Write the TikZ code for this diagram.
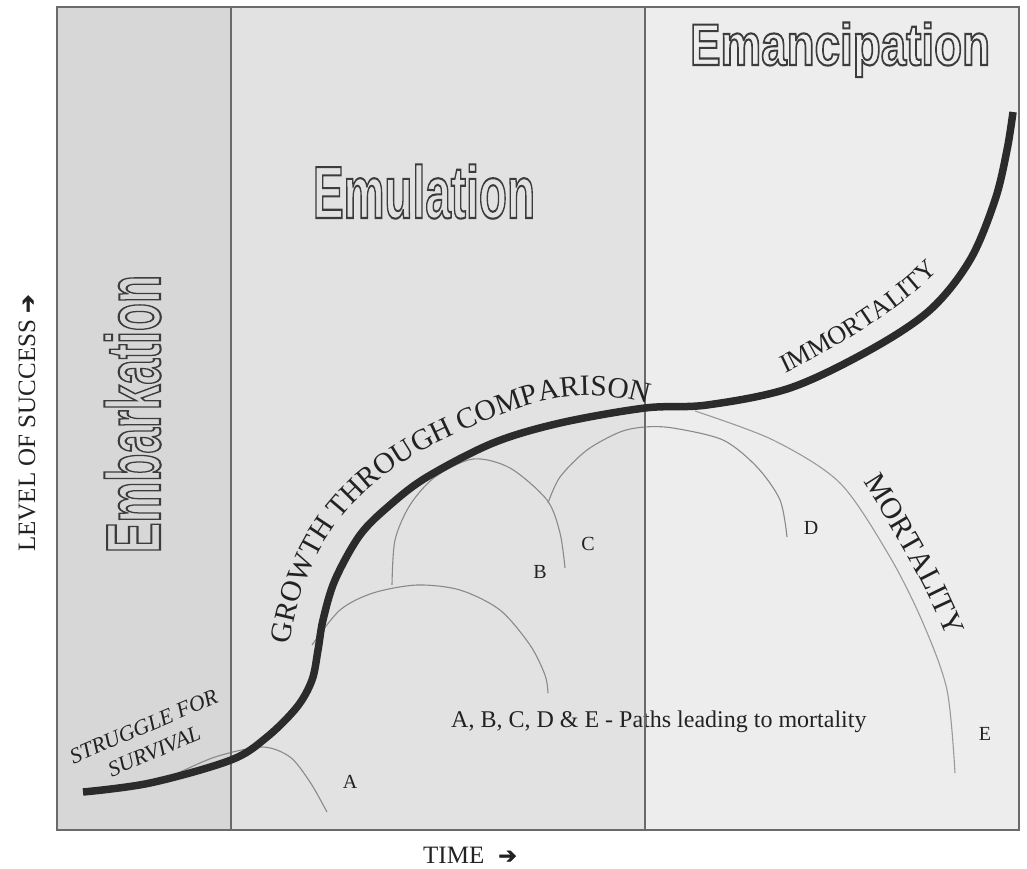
\documentclass[tikz,border=0pt]{standalone}
\usepackage{fontspec}
\usepackage{graphicx}
\setmainfont{Liberation Serif}
\newfontfamily\hdfont{Liberation Sans}
\newfontfamily\arrowfont{DejaVu Sans}[FakeBold=2]
\usetikzlibrary{calc,decorations.text}
\definecolor{bgA}{HTML}{D7D7D7}
\definecolor{bgB}{HTML}{E2E2E2}
\definecolor{bgC}{HTML}{EDEDED}
\definecolor{framec}{HTML}{6A6A6A}
\definecolor{curvec}{HTML}{2B2B2B}
\definecolor{thinc}{HTML}{8A8A8A}
\definecolor{thinlc}{HTML}{9A9A9A}
\definecolor{olc}{HTML}{3C3C3C}
\definecolor{txt}{HTML}{222222}
% outlined (stroked) bold sans word: #1 width, #2 size, #3 word
\newcommand\outlword[3]{\resizebox{#1}{\height}{\special{pdf:literal direct 1 Tr 2.1 w}\hdfont\bfseries\fontsize{#2}{#2}\selectfont #3\special{pdf:literal direct 0 Tr}}}
\begin{document}
\begin{tikzpicture}[x=1pt,y=-1pt,
  outl/.style={inner sep=0pt,outer sep=0pt,text=olc},
  thinarc/.style={draw=thinc,line width=1.1pt},
  frameline/.style={draw=framec,line width=1.6pt},
  thickline/.style={draw=curvec,line width=7.5pt},
  lbl/.style={inner sep=0pt,text=txt,font=\fontsize{20}{24}\selectfont},
  axlbl/.style={inner sep=0pt,text=txt,font=\fontsize{25}{30}\selectfont}]
\useasboundingbox (0,0) rectangle (1027,868);
% backgrounds
\fill[bgA] (57,7) rectangle (231,830);
\fill[bgB] (231,7) rectangle (645,830);
\fill[bgC] (645,7) rectangle (1019,830);
% thin paths
\draw[thinarc] plot[smooth] coordinates {(172,776) (215,757) (262,747) (290,757) (310,782) (327,812)};
\draw[thinarc] plot[smooth] coordinates {(312,645) (340,610) (373,593) (417,585) (460,590) (500,610) (530,645) (545,675) (548,693)};
\draw[thinarc] plot[smooth] coordinates {(392,585) (395,540) (410,505) (435,477) (473,459) (510,468) (547,500) (560,533) (565,568)};
\draw[thinarc] plot[smooth] coordinates {(548,503) (560,477) (587,450) (620,432) (645,427) (673,428) (723,440) (757,467) (780,500) (787,537)};
\draw[thinarc,draw=thinlc] plot[smooth] coordinates {(695,411) (773,440) (840,483) (890,557) (923,623) (947,690) (955,773)};
% caption
\node[inner sep=0pt,anchor=base west,text=txt,font=\fontsize{24}{28}\selectfont] (caption) at (451,727) {A, B, C, D \& E - Paths leading to mortality};
% frame
\draw[frameline] (57,7) rectangle (1019,830);
\draw[frameline] (231,7) -- (231,830);
\draw[frameline] (645,7) -- (645,830);
% main curve
\draw[thickline] plot[smooth,tension=0.55] coordinates {(83,792) (150,783) (231,760) (267,737) (297,707) (312,680) (318,650) (323,620) (335,580) (360,535) (390,505) (427,477) (493,443) (560,423) (645,408) (707,405) (790,388) (870,350) (930,310) (970,260) (995,200) (1007,150) (1013,112)};
% outlined titles
\node[outl,rotate=90,anchor=base west] (emb) at (160,553) {\outlword{278pt}{76.8}{Embarkation}};
\node[outl,anchor=base west] (emu) at (313,218) {\outlword{222pt}{74}{Emulation}};
\node[outl,anchor=base west] (ema) at (690,65) {\outlword{300pt}{58.7}{Emancipation}};
% texts along paths
\coordinate (g0) at (290,645);
\coordinate (g1) at (450,437);
\coordinate (g2) at (648,404);
\path[decorate,decoration={text along path,text color=txt,text align=left,
  text={|\fontsize{29.5}{35}\selectfont|GROWTH THROUGH COMPARISON}}]
  (g0) .. controls (304,543) and (357,480) .. (g1) .. controls (521,404) and (573,383) .. (g2);
\coordinate (i0) at (785,373);
\coordinate (i1) at (956,252);
\path[decorate,decoration={text along path,text color=txt,text align=left,
  text={|\fontsize{26}{30}\selectfont|IMMORTALITY}}]
  (i0) .. controls (845,345) and (915,300) .. (i1);
\coordinate (m0) at (863,482);
\coordinate (m1) at (964,686);
\path[decorate,decoration={text along path,text color=txt,text align=left,
  text={|\fontsize{30}{36}\selectfont|MORTALITY}}]
  (m0) .. controls (910,555) and (945,620) .. (m1);
% struggle
\node[inner sep=0pt,rotate=23,align=center,text=txt,font=\fontsize{22}{27}\selectfont\itshape] (struggle) at (149,739) {STRUGGLE FOR\\SURVIVAL};
% path labels
\node[lbl] (la) at (350,782) {A};
\node[lbl] (lb) at (540,572) {B};
\node[lbl] (lc) at (588,544) {C};
\node[lbl] (ld) at (811,528) {D};
\node[lbl] (le) at (985,734) {E};
% axis labels
\node[axlbl,anchor=base west] (time) at (423,863) {TIME\hspace{14pt}{\arrowfont\fontsize{22}{26}\selectfont ➔}};
\node[axlbl,anchor=base west,rotate=90] (level) at (35,552) {LEVEL OF SUCCESS\hspace{7pt}{\arrowfont\fontsize{22}{26}\selectfont ➔}};
\end{tikzpicture}
\end{document}
